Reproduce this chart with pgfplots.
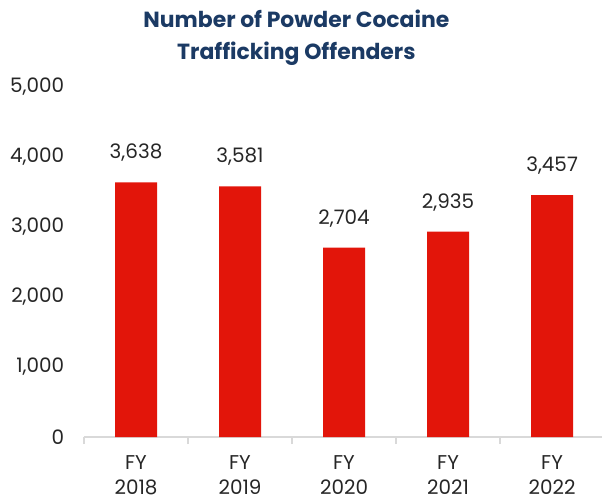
\documentclass[border=0pt]{standalone}
\usepackage{fontspec}
\setmainfont{Poppins}
\usepackage{pgfplots}
\pgfplotsset{compat=1.18}
\definecolor{barred}{HTML}{E2150A}
\definecolor{titleblue}{HTML}{1B3A64}
\definecolor{txt}{HTML}{262626}
\definecolor{axisgray}{HTML}{D9D9D9}
\begin{document}
\begin{tikzpicture}
\useasboundingbox (-84bp,-64bp) rectangle (518bp,437bp);
\begin{axis}[
  at={(0,0)}, anchor=south west,
  scale only axis,
  width=518bp, height=350bp,
  xmin=-0.5, xmax=4.48,
  ymin=0, ymax=5000,
  axis lines*=left,
  y axis line style={draw=none},
  x axis line style={draw=axisgray, line width=1.5bp},
  xtick={0,1,2,3,4},
  xticklabels={{FY\\2018},{FY\\2019},{FY\\2020},{FY\\2021},{FY\\2022}},
  x tick label style={align=center, font=\fontsize{20}{25}\selectfont, text=txt, yshift=-11bp},
  major x tick style={draw=none},
  minor xtick={-0.5,0.5,1.5,2.5,3.5,4.5},
  minor x tick style={draw=axisgray, line width=1.5bp},
  minor tick length=7bp,
  tick pos=lower, tick align=outside,
  ytick={0,1000,2000,3000,4000,5000},
  major y tick style={draw=none},
  y tick label style={font=\fontsize{20}{22}\selectfont, text=txt, xshift=-12bp},
  scaled ticks=false,
  /pgf/number format/1000 sep={,},
  /pgf/number format/assume math mode=true,
  ybar, bar width=42bp,
  nodes near coords,
  every node near coord/.append style={font=\fontsize{20}{22}\selectfont, text=txt, yshift=17bp},
  title={Number of Powder Cocaine\\Trafficking Offenders},
  title style={align=center, font=\bfseries\fontsize{22}{32}\selectfont, text=titleblue, at={(0.41,1)}, yshift=12bp},
]
\addplot[fill=barred, draw=none] coordinates {(0,3638) (1,3581) (2,2704) (3,2935) (4,3457)};
\end{axis}
\end{tikzpicture}
\end{document}
